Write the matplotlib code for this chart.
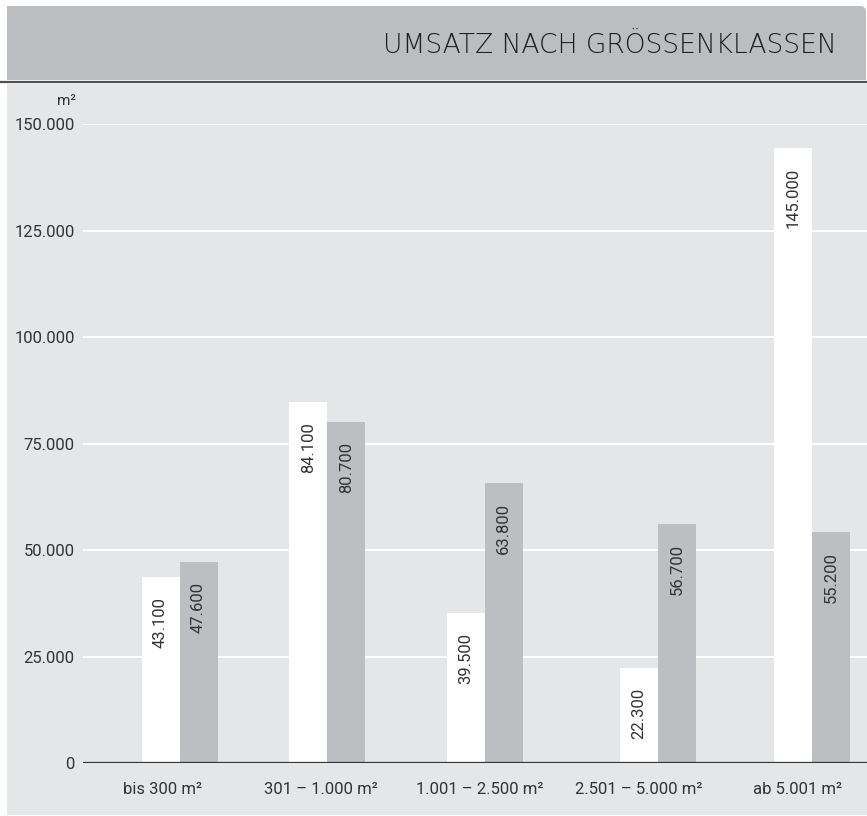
import matplotlib
matplotlib.use("Agg")
import matplotlib.pyplot as plt
from matplotlib.patches import Rectangle, PathPatch
from matplotlib.path import Path

# ---------------- data ----------------
categories = ["bis 300 m²", "301 – 1.000 m²", "1.001 – 2.500 m²",
              "2.501 – 5.000 m²", "ab 5.001 m²"]
white_values = [43700, 84800, 35300, 22300, 144400]
gray_values = [47200, 80100, 65700, 56100, 54300]
white_labels = ["43.100", "84.100", "39.500", "22.300", "145.000"]
gray_labels = ["47.600", "80.700", "63.800", "56.700", "55.200"]
y_ticks = [0, 25000, 50000, 75000, 100000, 125000, 150000]
title = "UMSATZ NACH GRÖSSENKLASSEN"
unit = "m²"

# ---------------- layout ----------------
W, H = 867, 816
group_pos = [0.11, 1.04, 2.03, 3.12, 4.09]
bar_w = 0.239

plt.rcParams['font.family'] = ['Roboto', 'DejaVu Sans']

fig = plt.figure(figsize=(W / 100, H / 100), dpi=100)
fig.patch.set_facecolor("white")

def fx(x):
    return x / W

def fy(y):
    return 1 - y / H

# light panel
fig.add_artist(Rectangle((fx(7), fy(815)), fx(867) - fx(7), fy(84) - fy(815),
                         transform=fig.transFigure, facecolor="#e5e6e8",
                         edgecolor="none", zorder=0))
# title band with rounded top-right corner
r = 6
x0, x1, y0, y1 = 7, 866, 6, 80
verts = [(fx(x0), fy(y1)), (fx(x0), fy(y0)), (fx(x1 - r), fy(y0)),
         (fx(x1), fy(y0)), (fx(x1), fy(y0 + r)), (fx(x1), fy(y1)),
         (fx(x0), fy(y1))]
codes = [Path.MOVETO, Path.LINETO, Path.LINETO, Path.CURVE3, Path.CURVE3,
         Path.LINETO, Path.CLOSEPOLY]
fig.add_artist(PathPatch(Path(verts, codes), transform=fig.transFigure,
                         facecolor="#bcbdc0", edgecolor="none", zorder=0))
# dark separator line
fig.add_artist(plt.Line2D([0, 1], [fy(81.5), fy(81.5)], transform=fig.transFigure,
                          color="#4f4f4f", lw=1.6, zorder=1))

fig.text(fx(837), fy(53), title, ha="right", va="baseline",
         fontsize=19.1, color="#1e1e1e", family=["DejaVu Sans"], fontweight="light")

# axes
ax = fig.add_axes([fx(83), fy(763), fx(867) - fx(83), fy(124.3) - fy(763)])
ax.set_facecolor("none")
ax.set_xlim(-0.497, 4.434)
ax.set_ylim(0, 150000)
for s in ax.spines.values():
    s.set_visible(False)

ax.set_yticks(y_ticks)
ax.set_yticklabels([f"{v:,}".replace(",", ".") for v in y_ticks])
ax.yaxis.grid(True, color="white", lw=1.4)
ax.set_axisbelow(True)
ax.tick_params(axis="y", length=0, pad=6, labelsize=12, labelcolor="#333333")

ax.set_xticks(range(len(categories)))
ax.set_xticklabels(categories)
ax.tick_params(axis="x", length=0, pad=13.5, labelsize=12, labelcolor="#333333")

xs_w = [p - bar_w / 2 for p in group_pos]
xs_g = [p + bar_w / 2 for p in group_pos]
ax.bar(xs_w, white_values, width=bar_w, color="white", edgecolor="none", zorder=2)
ax.bar(xs_g, gray_values, width=bar_w, color="#bdbec1", edgecolor="none", zorder=2)
ax.axhline(0, color="#333333", lw=1.6, zorder=3)

for xs, vals, labs in [(xs_w, white_values, white_labels),
                       (xs_g, gray_values, gray_labels)]:
    for x, v, lab in zip(xs, vals, labs):
        ax.annotate(lab, (x, v), xytext=(0, -20), textcoords="offset pixels",
                    rotation=90, ha="center", va="top", fontsize=12,
                    color="#333333", zorder=4)

fig.text(fx(76), fy(105), unit, ha="right", va="baseline", fontsize=11,
         color="#333333")

fig.savefig("out.png", dpi=100)
